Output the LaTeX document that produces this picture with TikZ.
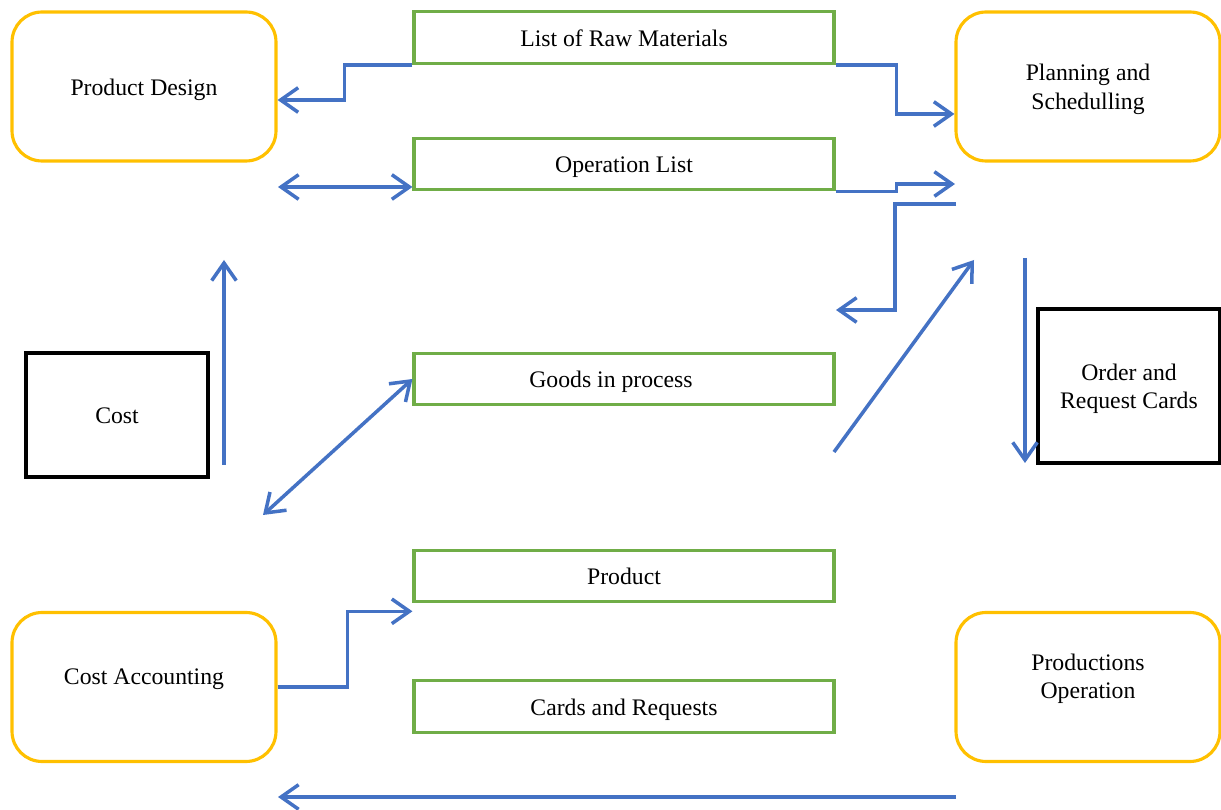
\documentclass[tikz,border=0pt]{standalone}
\usepackage{fontspec}
\setmainfont{Liberation Serif}
\usetikzlibrary{arrows.meta}
\definecolor{orng}{HTML}{FFC000}
\definecolor{grn}{HTML}{70AD47}
\definecolor{blu}{HTML}{4472C4}
\tikzset{
  txt/.style={text height=13pt, text depth=3pt},
  two/.style={text height=29pt, text depth=3pt},
  obox/.style={txt, draw=orng, line width=1.8pt, rounded corners=0.6cm, minimum width=5.28cm, minimum height=2.98cm, align=center, inner sep=0pt},
  gbox/.style={txt, draw=grn, line width=1.8pt, minimum width=8.4cm, minimum height=1.03cm, inner sep=0pt},
  kbox/.style={txt, draw=black, line width=1.8pt, minimum width=3.64cm, align=center, inner sep=0pt},
  arr/.style={draw=blu, line width=2pt, -{Straight Barb[length=10pt,width=14pt,line width=2pt]}},
  arrb/.style={draw=blu, line width=2pt, {Straight Barb[length=10pt,width=14pt,line width=2pt]}-{Straight Barb[length=10pt,width=14pt,line width=2pt]}},
}
\begin{document}
\begin{tikzpicture}[x=0.02cm, y=-0.02cm, font=\fontsize{13.5pt}{16.2pt}\selectfont]
\useasboundingbox (0,0) rectangle (1221,810);
% rounded boxes
\node[obox] (pd) at (144,86.5) {Product Design};
\node[obox, two] (pe) at (1088,86.5) {Planning and\\Schedulling};
\node[obox, text depth=15.5pt] (ca) at (144,687) {Cost Accounting};
\node[obox, two, text depth=15.5pt] (po) at (1088,687) {Productions\\Operation};
% green boxes
\node[gbox] (list) at (624,37.5) {List of Raw Materials};
\node[gbox] (opl) at (624,164) {Operation List};
\node[gbox] (goods) at (624,379) {Goods in process\kern0.52cm};
\node[gbox] (prod) at (624,576) {Product};
\node[gbox] (cards) at (624,706.5) {Cards and Requests};
% black boxes
\node[kbox, minimum height=2.48cm] (cost) at (117,415) {Cost};
\node[kbox, two, minimum height=3.08cm] (orc) at (1129,386) {Order and\\Request Cards};
% free ends
\coordinate (d1) at (278,187);
\coordinate (c4) at (955,184);
\coordinate (c5a) at (956,204);
\coordinate (c5b) at (836,310);
\coordinate (c6a) at (224,465);
\coordinate (c6b) at (224,260);
\coordinate (c7) at (263,515);
\coordinate (c8a) at (834,452);
\coordinate (c8b) at (974,260);
\coordinate (c9a) at (1025,258);
\coordinate (c9b) at (1025,463);
\coordinate (c11a) at (956,797);
\coordinate (c11b) at (278,797);
% connectors
\draw[arr] (list.south west) -- ++(-68,0) |- ([yshift=-0.27cm]pd.east);
\draw[arr] (list.south east) -- ++(61,0) |- ([yshift=-0.55cm]pe.west);
\draw[arrb] (d1) -- (d1 -| opl.west);
\draw[arr] (opl.south east) -- ++(61,0) |- (c4);
\draw[arr] (c5a) -- ++(-61,0) |- (c5b);
\draw[arr] (c6a) -- (c6b);
\draw[arrb] (c7) -- (goods.west);
\draw[arr] (c8a) -- (c8b);
\draw[arr] (c9a) -- (c9b);
\draw[arr] (ca.east) -- ++(70,0) |- ([yshift=-0.16cm]prod.south west);
\draw[arr] (c11a) -- (c11b);
\end{tikzpicture}
\end{document}
